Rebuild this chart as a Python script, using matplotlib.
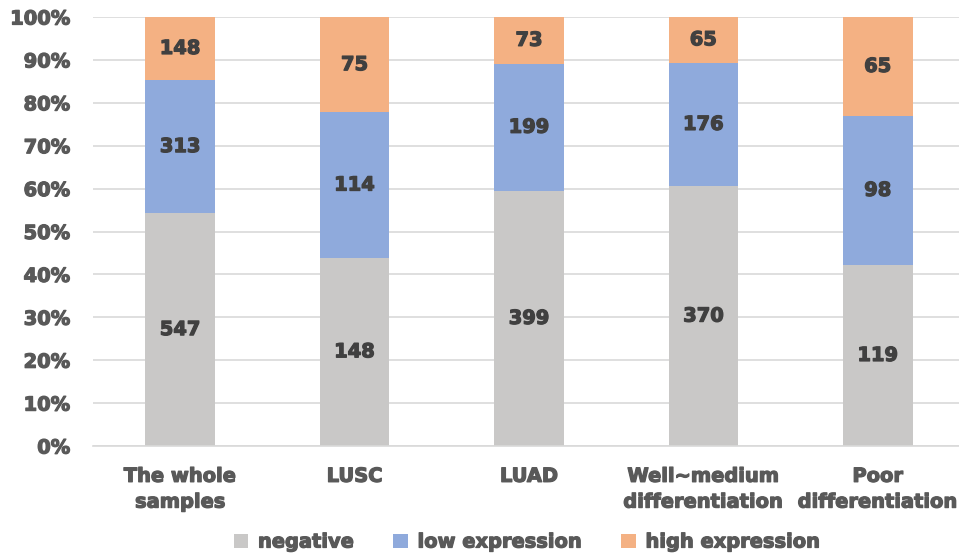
import matplotlib
matplotlib.use("Agg")
import matplotlib.pyplot as plt
import matplotlib.patheffects as pe
import numpy as np

categories = ["The whole\nsamples", "LUSC", "LUAD", "Well~medium\ndifferentiation", "Poor\ndifferentiation"]
negative = [547, 148, 399, 370, 119]
low_expr = [313, 114, 199, 176, 98]
high_expr = [148, 75, 73, 65, 65]

series = [("negative", negative, "#C9C8C7"),
          ("low expression", low_expr, "#8FAADC"),
          ("high expression", high_expr, "#F4B183")]

plt.rcParams["font.family"] = "DejaVu Sans"
plt.rcParams["font.weight"] = "bold"

# thicken text a little to get closer to the heavy font of the original
heavy_grey = [pe.withStroke(linewidth=0.9, foreground="#595959")]
heavy_dark = [pe.withStroke(linewidth=0.9, foreground="#404040")]

fig = plt.figure(figsize=(9.59, 5.57), dpi=100)
ax = fig.add_axes([93 / 959, 111 / 557, 872 / 959, 429 / 557])

totals = np.array(negative) + np.array(low_expr) + np.array(high_expr)
x = np.arange(len(categories))
bottom = np.zeros(len(categories))
for name, vals, color in series:
    pct = np.array(vals) / totals * 100
    ax.bar(x, pct, 0.4, bottom=bottom, color=color, label=name, zorder=2)
    for xi, b, p, v in zip(x, bottom, pct, vals):
        ax.text(xi, b + p / 2, str(v), ha="center", va="center",
                fontsize=14, fontweight="bold", color="#404040", zorder=3,
                path_effects=heavy_dark)
    bottom += pct

ax.set_xlim(-0.5, len(categories) - 0.5)
ax.set_ylim(0, 100)
ax.set_yticks(np.arange(0, 101, 10))
ax.set_yticklabels([f"{v}%" for v in range(0, 101, 10)])
ax.yaxis.grid(True, color="#D9D9D9", linewidth=1.2, zorder=0)
ax.set_axisbelow(True)
for s in ["top", "right", "left"]:
    ax.spines[s].set_visible(False)
ax.spines["bottom"].set_color("#D9D9D9")
ax.spines["bottom"].set_linewidth(1.2)
ax.tick_params(axis="y", length=0, pad=16.5, labelsize=14, labelcolor="#595959")
ax.tick_params(axis="x", length=0, pad=15, labelsize=14, labelcolor="#595959")
ax.set_xticks(x)
ax.set_xticklabels(categories, linespacing=1.45)
for lbl in ax.get_xticklabels() + ax.get_yticklabels():
    lbl.set_path_effects(heavy_grey)

leg = fig.legend(loc="center", bbox_to_anchor=(527 / 959, 1 - 542 / 557), ncol=3,
                 frameon=False, fontsize=14, handlelength=0.75, handleheight=0.75,
                 handletextpad=0.5, columnspacing=2.0, labelcolor="#595959")
for t in leg.get_texts():
    t.set_path_effects(heavy_grey)

fig.savefig("out.png", dpi=100)
